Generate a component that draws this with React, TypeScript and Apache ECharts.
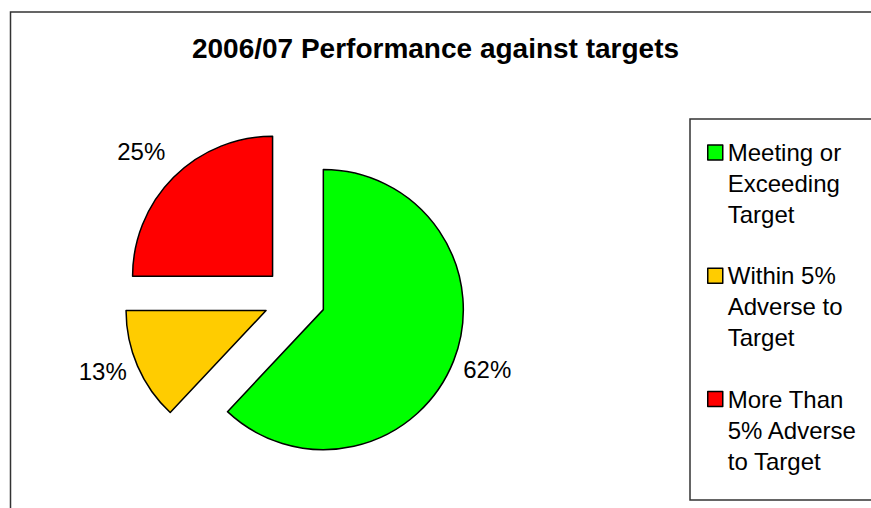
import React, { useEffect, useRef } from "react";
import * as echarts from "echarts";

const TITLE = "2006/07 Performance against targets";
const categories = [
  "Meeting or\nExceeding\nTarget",
  "Within 5%\nAdverse to\nTarget",
  "More Than\n5% Adverse\nto Target",
];
const values = [62, 13, 25];
const colors = ["#00FF00", "#FFCC00", "#FF0000"];

const FONT = "'Liberation Sans', Arial, sans-serif";

export default function App() {
  const ref = useRef<HTMLDivElement>(null);

  useEffect(() => {
    if (!ref.current) return;
    const chart = echarts.init(ref.current, undefined, { renderer: "svg" });

    // label line tweaks so each percentage sits where the original puts it
    const labelTweaks = [
      { length: 21.7, length2: -15.4 },
      { length: 13.7, length2: -6.8 },
      { length: 37.1, length2: -22.9 },
    ];

    chart.setOption({
      animation: false,
      backgroundColor: "#ffffff",
      title: {
        text: TITLE,
        left: "center",
        top: 34,
        padding: [0, 0, 0, 9],
        textStyle: {
          fontFamily: FONT,
          fontSize: 28,
          fontWeight: "bold",
          color: "#000",
        },
      },
      graphic: [
        {
          type: "polyline",
          silent: true,
          z: -10,
          shape: { points: [[10.5, 620], [10.5, 12], [940, 12]] },
          style: { fill: "none", stroke: "#333", lineWidth: 1.5 },
        },
        {
          type: "polyline",
          silent: true,
          z: -10,
          shape: { points: [[940, 119], [690, 119], [690, 500], [940, 500]] },
          style: { fill: "none", stroke: "#333", lineWidth: 1.5 },
        },
      ],
      legend: {
        type: "plain",
        orient: "vertical",
        left: 707,
        top: 75,
        height: 430,
        padding: 0,
        itemWidth: 15,
        itemHeight: 15,
        itemGap: -31.7,
        icon: "rect",
        itemStyle: { borderColor: "#000", borderWidth: 1.5 },
        textStyle: {
          fontFamily: FONT,
          fontSize: 24,
          lineHeight: 31,
          color: "#000",
          padding: [62, 0, 0, 0],
          rich: { x: {} },
        },
        data: categories,
      },
      series: [
        {
          type: "pie",
          center: [294.5, 298.2],
          radius: 140,
          startAngle: 90,
          clockwise: true,
          selectedMode: "multiple",
          selectedOffset: 31,
          avoidLabelOverlap: false,
          emphasis: { disabled: true },
          itemStyle: { borderColor: "#000", borderWidth: 1.5 },
          select: { itemStyle: { borderColor: "#000", borderWidth: 1.5 } },
          label: {
            show: true,
            position: "outside",
            formatter: "{c}%",
            fontFamily: FONT,
            fontSize: 24,
            color: "#000",
            distanceToLabelLine: 5,
          },
          labelLine: { show: false },
          data: categories.map((name, i) => ({
            name,
            value: values[i],
            selected: true,
            itemStyle: { color: colors[i] },
            labelLine: { show: false, ...labelTweaks[i] },
          })),
        },
      ],
    });

    return () => chart.dispose();
  }, []);

  return (
    <div
      ref={ref}
      style={{ position: "absolute", left: 0, top: 0, width: 871, height: 508 }}
    />
  );
}
